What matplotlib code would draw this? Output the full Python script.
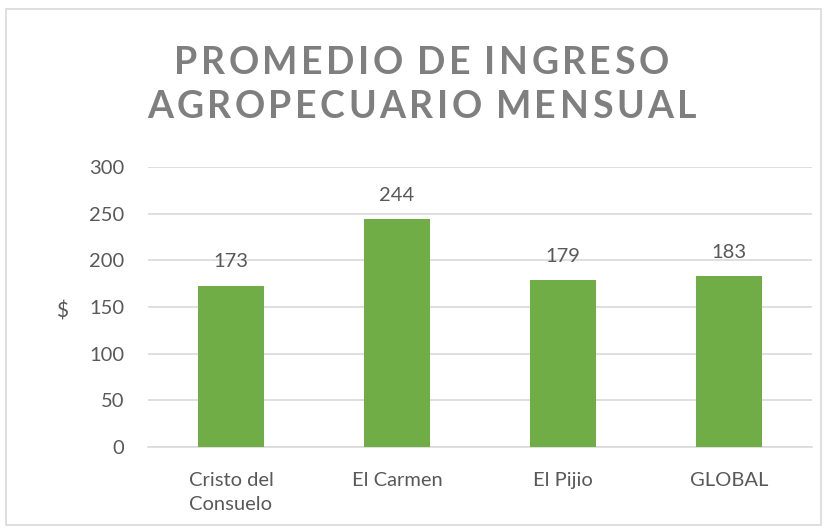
import matplotlib
matplotlib.use('Agg')
import matplotlib.pyplot as plt
from matplotlib.font_manager import FontProperties
from matplotlib.patches import Rectangle

plt.rcParams['font.family'] = ['Lato', 'DejaVu Sans']

categorias = ['Cristo del\nConsuelo', 'El Carmen', 'El Pijio', 'GLOBAL']
ingreso = [173, 244, 179, 183]
titulo = ['PROMEDIO DE INGRESO', 'AGROPECUARIO MENSUAL']

TXT = '#595959'
W, H = 827, 531
fig = plt.figure(figsize=(W / 100, H / 100), dpi=100)
ax = fig.add_axes([148 / W, 1 - 447 / H, 664 / W, 280 / H])

x = range(len(categorias))
bars = ax.bar(x, ingreso, width=0.4, color='#70AD47', zorder=3)
for b, v in zip(bars, ingreso):
    ax.annotate(str(v), (b.get_x() + b.get_width() / 2, v), xytext=(0, 11),
                textcoords='offset points', ha='center', va='bottom',
                fontsize=14.5, color=TXT)

ax.set_xlim(-0.5, len(categorias) - 0.5)
ax.set_ylim(0, 300)
ax.set_yticks(range(0, 301, 50))
ax.set_xticks(list(x))
ax.set_xticklabels(categorias, linespacing=1.5)
ax.tick_params(axis='both', length=0, labelsize=14.5, labelcolor=TXT)
ax.tick_params(axis='x', pad=18)
ax.tick_params(axis='y', pad=17)
ax.grid(axis='y', color='#D9D9D9', linewidth=1.2, zorder=0)
for s in ['top', 'right', 'left']:
    ax.spines[s].set_visible(False)
ax.spines['bottom'].set_color('#D9D9D9')
ax.spines['bottom'].set_linewidth(1.2)
fig.text(62 / W, 1 - 312 / H, '$', fontsize=15, color=TXT, ha='center', va='center')

# titulo con espaciado entre letras
prop = FontProperties(family=['Lato', 'DejaVu Sans'], weight='bold', size=27)
rend = fig.canvas.get_renderer()
track = 3.5
for linea, yc in zip(titulo, [63, 107]):
    anchos = []
    for ch in linea:
        if ch == ' ':
            anchos.append(prop.get_size_in_points() * 0.26)
        else:
            w, _, _ = rend.get_text_width_height_descent(ch, prop, ismath=False)
            anchos.append(w)
    total = sum(anchos) + track * (len(linea) - 1)
    px = W / 2 + 8 - total / 2
    for ch, w in zip(linea, anchos):
        if ch != ' ':
            fig.text(px / W, 1 - yc / H, ch, fontproperties=prop, color='#7F7F7F',
                     ha='left', va='center')
        px += w + track

fig.patches.append(Rectangle((6 / W, 6 / H), 815 / W, 516 / H, transform=fig.transFigure,
                             fill=False, edgecolor='#D9D9D9', linewidth=1.2))

fig.savefig('out.png', dpi=100)
